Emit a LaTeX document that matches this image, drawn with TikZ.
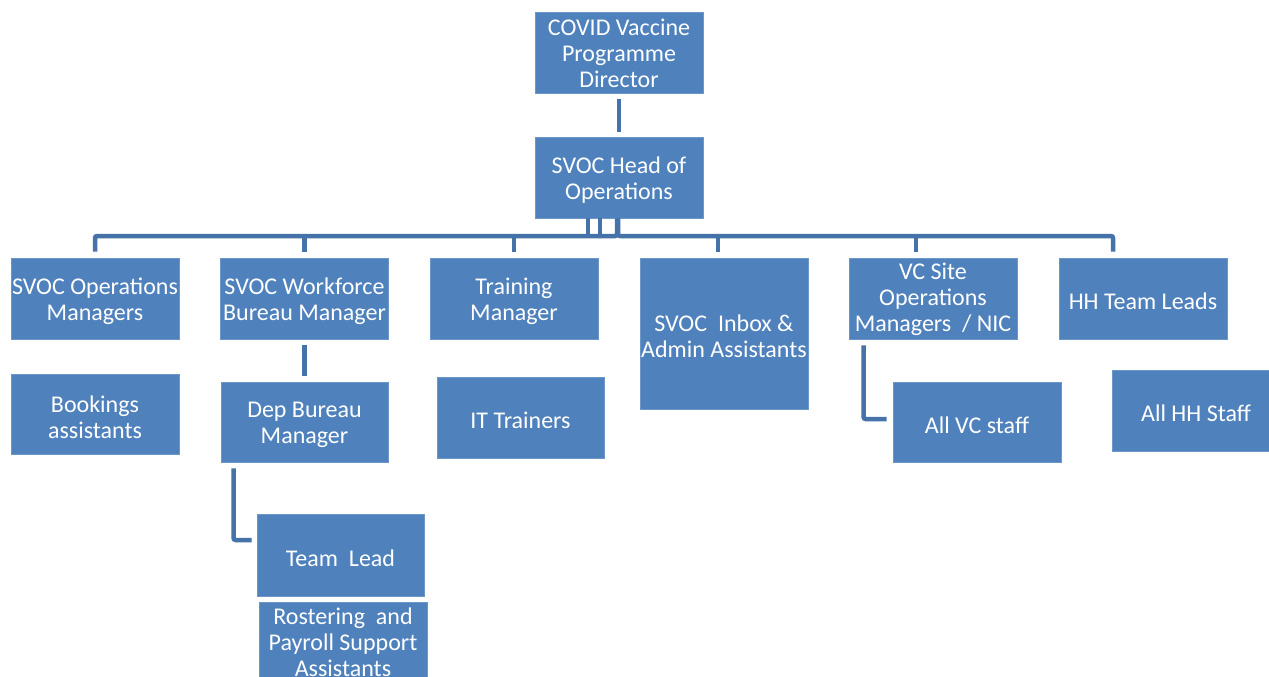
\documentclass[tikz,border=0pt]{standalone}
\usepackage{fontspec}
\setmainfont{Carlito}
\usetikzlibrary{calc}
\definecolor{boxblue}{HTML}{4F81BD}
\definecolor{boxedge}{HTML}{6E97C9}
\definecolor{linkblue}{HTML}{4672AA}
\begin{document}
\begin{tikzpicture}[x=1pt,y=-1pt,
  plainbox/.style={fill=boxblue,draw=boxedge,line width=0.8pt,inner sep=0pt},
  orgbox/.style={plainbox,label={[boxtext]center:{#1}}},
  orgboxthree/.style={plainbox,label={[boxtext,yshift=2.5pt]center:{#1}}},
  boxtext/.style={text=white,align=center,inner sep=0pt,yshift=-3pt,
    font=\fontsize{24}{26}\selectfont},
  wide/.style={minimum width=168pt,minimum height=81pt},
  link/.style={draw=linkblue,line width=4.5pt}]
\useasboundingbox (0,0) rectangle (1269,677);
\fill[white] (0,0) rectangle (1269,677);
\begin{scope}
\clip (0,0) rectangle (1269,677);
% top of the chart
\node[orgboxthree={COVID Vaccine\\Programme\\Director},wide] (dir)  at (619,52.5) {};
\node[orgbox={SVOC Head of\\Operations},wide] (head) at (619,177.5) {};
% managers
\node[orgbox={SVOC Operations\\Managers},wide] (ops)   at (95,298.5) {};
\node[orgbox={SVOC Workforce\\Bureau Manager},wide] (wf) at (304.5,298.5) {};
\node[orgbox={Training\\Manager},wide] (train) at (514,298.5) {};
\node[orgbox={SVOC~~Inbox \&\\Admin Assistants},minimum width=168pt,minimum height=151pt] (inbox) at (724,333.5) {};
\node[orgboxthree={VC Site\\Operations\\Managers~~/ NIC},wide] (vcsite) at (933,298.5) {};
\node[orgbox={HH Team Leads},wide] (hhtl) at (1143,298.5) {};
% second level
\node[orgbox={Bookings\\assistants},minimum width=168pt,minimum height=80pt] (book) at (95,414) {};
\node[orgbox={Dep Bureau\\Manager},minimum width=167pt,minimum height=80pt] (dep) at (304.5,422) {};
\node[orgbox={IT Trainers},minimum width=167pt,minimum height=81pt] (it) at (520.5,417.5) {};
\node[orgbox={All VC staff},minimum width=168pt,minimum height=80pt] (vcstaff) at (977,422) {};
\node[orgbox={All HH Staff},minimum width=168pt,minimum height=81pt] (hhstaff) at (1196,410.5) {};
% workforce bureau teams
\node[orgbox={Team~~Lead},minimum width=167pt,minimum height=82pt] (tl) at (340.5,555) {};
\node[orgboxthree={Rostering~~and\\Payroll Support\\Assistants},minimum width=168pt,minimum height=80pt] (rost) at (343,642) {};
\end{scope}
% connectors
\coordinate (bus) at (0,236);
\draw[link] ([yshift=-6pt]dir.south) -- ([yshift=5pt]head.north);
\draw[link,rounded corners=2pt] ([xshift=-2pt]head.south) -- ([xshift=-2pt]head.south |- bus) -| ([yshift=6pt]ops.north);
\draw[link,rounded corners=2pt] ([xshift=-1pt]head.south) -- ([xshift=-1pt]head.south |- bus) -| ([xshift=-30pt,yshift=6pt]hhtl.north);
\draw[link] ([xshift=-31pt]head.south) -- ([xshift=-31pt]head.south |- bus);
\draw[link] ([xshift=-19pt]head.south) -- ([xshift=-19pt]head.south |- bus);
\draw[link] (wf.north |- bus) -- ([yshift=6pt]wf.north);
\draw[link] (train.north |- bus) -- ([yshift=6pt]train.north);
\draw[link] ([xshift=-6pt]inbox.north |- bus) -- ([xshift=-6pt,yshift=6pt]inbox.north);
\draw[link] ([xshift=-17pt]vcsite.north |- bus) -- ([xshift=-17pt,yshift=6pt]vcsite.north);
\draw[link] ([yshift=-6pt]wf.south) -- ([yshift=6pt]dep.north);
\draw[link,rounded corners=2pt] ([xshift=13pt,yshift=-6pt]dep.south west) |- ([xshift=-5pt,yshift=15pt]tl.west);
\draw[link,rounded corners=2pt] ([xshift=15pt,yshift=-6pt]vcsite.south west) |- ([xshift=-6pt,yshift=3pt]vcstaff.west);
\end{tikzpicture}
\end{document}
